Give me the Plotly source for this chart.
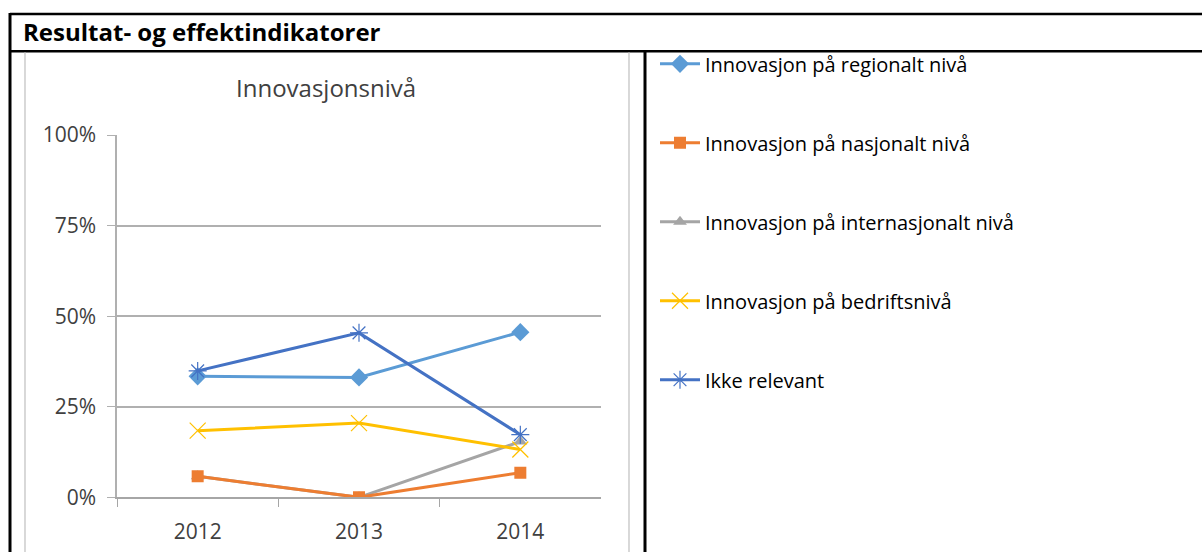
import plotly.graph_objects as go

W, H = 1202, 553

# Series data (shares of respondents)
years = ["2012", "2013", "2014"]
regionalt = [0.334, 0.331, 0.456]
nasjonalt = [0.058, 0.0, 0.068]
internasjonalt = [0.058, 0.0, 0.154]
bedrift = [0.184, 0.205, 0.132]
ikke_relevant = [0.349, 0.454, 0.173]

y_ticks = [0, 0.25, 0.5, 0.75, 1.0]
y_tick_text = ["0%", "25%", "50%", "75%", "100%"]

FONT = "Open Sans"
TXT = "#404040"

# page-pixel -> paper helpers (figure occupies rows TOP..BOT on the page)
TOP, BOT = 12, 541


def px(x):
    return x / W


def py(y):
    return 1 - (y - TOP) / (BOT - TOP)


series = [
    dict(name="Innovasjon på regionalt nivå", y=regionalt, color="#5B9BD5",
         symbol="diamond", size=14, rank=1, lw=0),
    dict(name="Innovasjon på internasjonalt nivå", y=internasjonalt, color="#A5A5A5",
         symbol="triangle-up", size=12, rank=3, lw=0),
    dict(name="Innovasjon på nasjonalt nivå", y=nasjonalt, color="#ED7D31",
         symbol="square", size=12, rank=2, lw=0),
    dict(name="Innovasjon på bedriftsnivå", y=bedrift, color="#FFC000",
         symbol="x-thin-open", size=16, rank=4, lw=1.2),
    dict(name="Ikke relevant", y=ikke_relevant, color="#4472C4",
         symbol="asterisk-open", size=15, rank=5, lw=1.2),
]

fig = go.Figure()
for s in series:
    fig.add_trace(go.Scatter(
        x=years, y=s["y"], name=s["name"], mode="lines+markers",
        line=dict(color=s["color"], width=3),
        marker=dict(symbol=s["symbol"], size=s["size"], color=s["color"],
                    line=dict(color=s["color"], width=s["lw"])),
        legendgroup=s["name"], legendrank=s["rank"],
        hoverinfo="skip",
    ))

shapes = []


def hline(y, x0, x1, color="black", width=2):
    shapes.append(dict(type="line", xref="paper", yref="paper",
                       x0=px(x0), x1=px(x1), y0=py(y), y1=py(y),
                       line=dict(color=color, width=width), layer="below"))


def vline(x, y0, y1, color="black", width=2):
    shapes.append(dict(type="line", xref="paper", yref="paper",
                       x0=px(x), x1=px(x), y0=py(y0), y1=py(y1),
                       line=dict(color=color, width=width), layer="below"))


# table frame
hline(11, 10, W, width=2.5)
hline(48.5, 10, W, width=2.5)
vline(10, 10, H, width=3)
vline(645, 48.5, H, width=3)
# chart area border
vline(25, 49.5, H, color="#BFBFBF", width=1.2)
vline(629, 49.5, H, color="#BFBFBF", width=1.2)

annotations = [
    dict(text="<b>Resultat- og effektindikatorer</b>", x=px(21), y=py(29),
         xref="paper", yref="paper", xanchor="left", yanchor="middle",
         showarrow=False, font=dict(family=FONT, size=24, color="black")),
    dict(text="Innovasjonsnivå", x=px(326), y=py(85.5),
         xref="paper", yref="paper", xanchor="center", yanchor="middle",
         showarrow=False, font=dict(family=FONT, size=24, color=TXT)),
]

fig.update_layout(
    width=W, height=H,
    margin=dict(l=0, r=0, t=0, b=0),
    paper_bgcolor="white", plot_bgcolor="white",
    shapes=shapes, annotations=annotations,
    showlegend=True,
    legend=dict(
        x=px(655), y=py(41.5), xanchor="left", yanchor="top",
        font=dict(family=FONT, size=20, color="black"),
        itemwidth=40, tracegroupgap=50, traceorder="grouped",
        bgcolor="rgba(255,255,255,0)",
    ),
    xaxis=dict(
        domain=[px(117), px(601)], range=[-0.5, 2.5],
        type="category", showgrid=False,
        showline=True, linecolor="#A6A6A6", linewidth=1.5,
        ticks="outside", tickson="boundaries", ticklen=8, tickcolor="#A6A6A6",
        tickfont=dict(family=FONT, size=21, color=TXT),
        ticklabelstandoff=15,
        fixedrange=True,
    ),
    yaxis=dict(
        domain=[py(498), py(133)], range=[0, 1],
        tickvals=y_ticks, ticktext=y_tick_text,
        showgrid=True, gridcolor="#B0B0B0", gridwidth=1.5,
        showline=True, linecolor="#B0B0B0", linewidth=1.5,
        ticks="outside", ticklen=8, tickcolor="#B0B0B0",
        tickfont=dict(family=FONT, size=21, color=TXT),
        ticklabelstandoff=7,
        zeroline=False, fixedrange=True,
    ),
)

fig.write_html("out.html")
